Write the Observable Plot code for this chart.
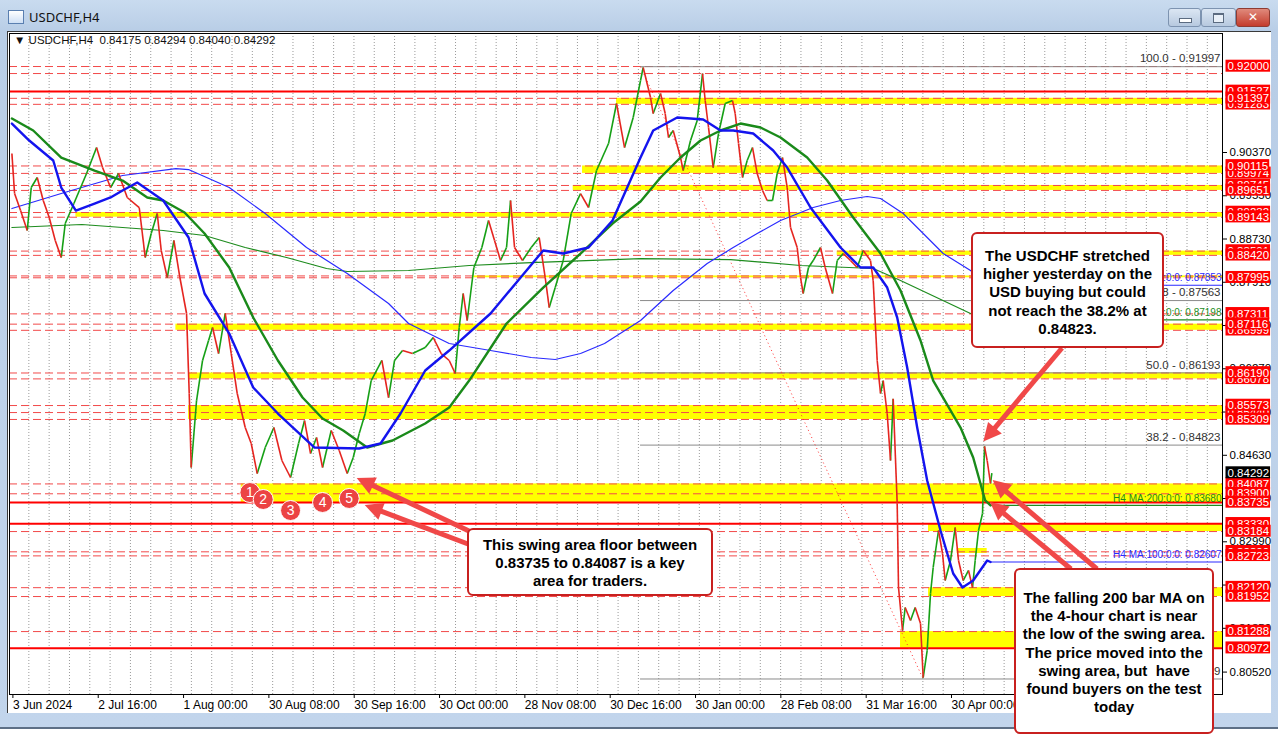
<!DOCTYPE html>
<html><head><meta charset="utf-8">
<script src="https://cdn.jsdelivr.net/npm/d3@7"></script>
<script src="https://cdn.jsdelivr.net/npm/@observablehq/plot@0.6"></script>
<style>
html,body{margin:0;padding:0}
body{width:1278px;height:737px;overflow:hidden;background:#fff;position:relative;font-family:"Liberation Sans",Arial,sans-serif}
#win{position:absolute;left:0;top:0;width:1278px;height:727px;background:linear-gradient(#c9dbef,#b8cde6 32px,#c2d5ec);border-bottom:2px solid #5d6f86}
#title{position:absolute;left:29px;top:8px;font:13px "Noto Sans","DejaVu Sans",sans-serif;color:#111}
#icon{position:absolute;left:8px;top:10px;width:14px;height:12px;border:1px solid #5a7fb0;background:linear-gradient(#fff,#cfe0f5)}
.btn{position:absolute;top:8px;height:17px;border:1px solid #7d93b0;border-radius:3px;background:linear-gradient(#dbe6f3,#b7c9df)}
#bmin{left:1168px;width:31px}#bmax{left:1201px;width:33px}
#bclose{left:1236px;width:32px;background:linear-gradient(#e08a7c,#c43c2c);border-color:#8e3b32;color:#fff;font:bold 12px "DejaVu Sans",sans-serif;text-align:center;line-height:17px}
#bmin:after{content:"";position:absolute;left:10px;top:9px;width:11px;height:3px;background:#fff;border:1px solid #5b6b80}
#bmax:after{content:"";position:absolute;left:11px;top:4px;width:9px;height:7px;border:1px solid #5b6b80;border-top-width:2px;background:#e9f0f8}
#chart{position:absolute;left:7px;top:31px;width:1263px;height:681px;background:#fff;border-top:1px solid #3a3a3a;border-left:1px solid #3a3a3a}
#chart svg{position:absolute;left:0;top:0}
#info{position:absolute;left:14px;top:34px;font-size:11.5px;color:#111;white-space:pre}
#overlay{position:absolute;left:0;top:0}
.box{position:absolute;background:#fff;border:2px solid #c8201f;border-radius:6px;box-sizing:border-box;text-align:center;font-weight:bold;font-size:15px;color:#000;line-height:18.2px}
</style></head>
<body>
<div id="win">
  <div id="icon"></div><div id="title">USDCHF,H4</div>
  <div class="btn" id="bmin"></div><div class="btn" id="bmax"></div><div class="btn" id="bclose">✕</div>
</div>
<div id="chart"></div>
<div id="info">▼ USDCHF,H4  0.84175 0.84294 0.84040 0.84292</div>
<svg id="overlay" width="1278" height="737"></svg>
<div class="box" style="left:971px;top:232px;width:193px;height:116px;padding-top:13px">The USDCHF stretched<br>higher yesterday on the<br>USD buying but could<br>not reach the 38.2% at<br>0.84823.</div>
<div class="box" style="left:467px;top:528px;width:246px;height:68px;padding-top:6px">This swing area floor between<br>0.83735 to 0.84087 is a key<br>area for traders.</div>
<div class="box" style="left:1014px;top:568px;width:200px;height:166px;padding-top:19px">The falling 200 bar MA on<br>the 4-hour chart is near<br>the low of the swing area.<br>The price moved into the<br>swing area, but&nbsp; have<br>found buyers on the test<br>today</div>
<script>
// ---------- DATA ----------
const xTickBars = [0,128,256,384,512,640,768,896,1024,1152,1280,1408];
const xTickLabels = ["3 Jun 2024","2 Jul 16:00","1 Aug 00:00","30 Aug 08:00","30 Sep 16:00","30 Oct 00:00","28 Nov 08:00","30 Dec 16:00","30 Jan 00:00","28 Feb 08:00","31 Mar 16:00","30 Apr 00:00"];
const axisPrices = [0.90370,0.89550,0.88730,0.87910,0.87090,0.86270,0.85450,0.84630,0.83810,0.82990,0.82170,0.81350,0.80520];
// horizontal-line labels, in drawing order
const levelLabels = [0.92000,0.91527,0.91283,0.91397,0.89974,0.90115,0.89745,0.89651,0.89232,0.89143,0.88501,0.88420,0.87995,0.86999,0.87311,0.87116,0.86078,0.86190,0.85440,0.85573,0.85309,0.84087,0.83900,0.83735,0.83330,0.83184,0.82800,0.82723,0.82120,0.81952,0.81288,0.80972];
const lastPrice = 0.84292;
const dashedLevels = [0.92000,0.91867,0.91397,0.91283,0.90115,0.89974,0.89745,0.89651,0.89232,0.89143,0.88501,0.88420,0.88030,0.87995,0.87311,0.87116,0.86999,0.86190,0.86078,0.85573,0.85440,0.85309,0.84087,0.83900,0.83184,0.82800,0.82723,0.82120,0.81952,0.81288];
const solidLevels = [0.91527,0.83735,0.83330,0.80972];
const bandTop    = [0.91397,0.90115,0.89745,0.89232,0.88501,0.88030,0.87116,0.86190,0.85573,0.84087,0.83330,0.82863,0.82120,0.81288];
const bandBottom = [0.91283,0.89974,0.89651,0.89143,0.88420,0.87995,0.86999,0.86078,0.85309,0.83735,0.83184,0.82768,0.81952,0.80972];
const bandStart  = [907,856,842,96,1238,693,246,265,265,344,1375,1418,1375,1333];
const bandEnd    = [null,null,null,null,null,null,null,null,null,null,null,1463,null,null];
const fibLevels = ["100.0","61.8","50.0","38.2","0.0"];
const fibPrices = [0.91997,0.87563,0.86193,0.84823,0.80389];
const fibHighBar = 943, fibLowBar = 1367;
const lastBar = 1468;
const maLabelNames = ["D1 MA:100:0:0:","D1 MA:200:0:0:","H4 MA:200:0:0:","H4 MA:100:0:0:"];
const maLabelValues = [0.87853,0.87198,0.83680,0.82607];
const swingBars = [357,377,418,466,506];
const swingPrices = [0.83924,0.83792,0.83583,0.83735,0.83811];
const swingNames = ["1","2","3","4","5"];
const pricePath = [[0,0.90351],[4,0.89592],[13,0.89270],[23,0.88891],[29,0.89706],[38,0.89896],[47,0.89460],[56,0.89138],[65,0.88702],[74,0.88379],[80,0.89024],[93,0.89403],[112,0.89972],[127,0.90464],[136,0.90085],[148,0.89706],[160,0.89972],[173,0.89517],[191,0.89327],[200,0.88379],[209,0.88834],[218,0.89213],[224,0.88512],[233,0.88000],[243,0.88702],[252,0.88000],[262,0.87318],[266,0.85801],[269,0.84398],[277,0.85668],[286,0.86427],[295,0.86806],[301,0.87052],[310,0.86559],[320,0.87318],[329,0.86559],[338,0.85801],[350,0.85156],[359,0.84853],[368,0.84284],[380,0.84777],[393,0.85156],[405,0.84531],[418,0.84209],[430,0.84853],[439,0.85289],[448,0.84664],[457,0.84967],[466,0.84398],[479,0.85100],[491,0.84720],[503,0.84284],[512,0.84588],[521,0.85043],[530,0.85422],[539,0.86047],[555,0.86427],[565,0.85725],[574,0.86427],[586,0.86616],[601,0.86559],[620,0.86673],[632,0.86863],[644,0.86559],[656,0.86427],[665,0.86180],[671,0.87052],[677,0.87697],[683,0.87185],[693,0.88190],[705,0.88569],[715,0.89081],[724,0.88702],[733,0.88322],[742,0.88569],[748,0.89460],[754,0.88569],[766,0.88322],[779,0.88569],[791,0.88758],[800,0.88000],[806,0.87431],[815,0.87810],[827,0.88322],[839,0.89213],[853,0.89592],[865,0.89327],[877,0.90028],[895,0.90540],[907,0.91299],[919,0.90464],[932,0.91033],[943,0.91735],[947,0.91981],[958,0.91412],[962,0.91109],[973,0.91488],[980,0.91109],[985,0.90654],[992,0.90787],[1003,0.90275],[1007,0.90028],[1018,0.90597],[1028,0.90976],[1036,0.91867],[1040,0.91355],[1045,0.90844],[1052,0.90085],[1060,0.90730],[1070,0.91299],[1081,0.91355],[1085,0.91109],[1090,0.90540],[1096,0.89896],[1103,0.90218],[1111,0.90464],[1118,0.89972],[1126,0.89649],[1133,0.89460],[1141,0.89460],[1148,0.89972],[1156,0.90275],[1163,0.89706],[1168,0.88948],[1178,0.88569],[1183,0.88000],[1187,0.87697],[1195,0.88190],[1202,0.88322],[1213,0.88569],[1220,0.88190],[1231,0.87697],[1238,0.88322],[1247,0.88455],[1258,0.88322],[1268,0.88190],[1277,0.88512],[1288,0.88322],[1292,0.87943],[1298,0.86427],[1303,0.85801],[1307,0.86047],[1313,0.85422],[1318,0.84531],[1322,0.85700],[1328,0.83716],[1330,0.82123],[1336,0.81308],[1340,0.81744],[1348,0.81498],[1355,0.81744],[1363,0.81441],[1367,0.80417],[1373,0.80929],[1378,0.82010],[1382,0.82503],[1390,0.83204],[1396,0.82768],[1400,0.82256],[1408,0.82635],[1415,0.83261],[1420,0.82635],[1427,0.82256],[1435,0.82446],[1441,0.82123],[1445,0.82635],[1450,0.83204],[1456,0.83526],[1459,0.84800],[1463,0.84531],[1468,0.84095],[1470,0.84292]];
const ma100H4 = [[0,0.90919],[26,0.90597],[62,0.90218],[74,0.89706],[96,0.89270],[124,0.89403],[148,0.89517],[166,0.89649],[188,0.89801],[227,0.89460],[265,0.88758],[289,0.87697],[326,0.86938],[362,0.85915],[399,0.85422],[454,0.84777],[521,0.84758],[553,0.84853],[583,0.85422],[620,0.86237],[656,0.86616],[718,0.87318],[797,0.88512],[827,0.88455],[865,0.88569],[901,0.89081],[943,0.90275],[962,0.90787],[998,0.91033],[1018,0.91014],[1037,0.90995],[1063,0.90787],[1082,0.90787],[1112,0.90730],[1142,0.90408],[1163,0.90085],[1198,0.89327],[1243,0.88569],[1273,0.88190],[1292,0.88190],[1313,0.87810],[1328,0.87242],[1343,0.86294],[1358,0.85156],[1373,0.84152],[1393,0.83204],[1412,0.82389],[1426,0.82123],[1442,0.82256],[1463,0.82635],[1468,0.82607]];
const ma200H4 = [[0,0.91014],[32,0.90787],[74,0.90275],[124,0.90028],[166,0.89839],[203,0.89517],[227,0.89460],[259,0.89232],[289,0.88834],[326,0.88190],[362,0.87242],[399,0.86427],[436,0.85725],[466,0.85327],[497,0.85100],[533,0.84777],[571,0.84910],[620,0.85232],[656,0.85536],[686,0.86047],[742,0.87128],[797,0.87810],[853,0.88455],[901,0.89024],[943,0.89440],[973,0.89896],[1003,0.90275],[1033,0.90597],[1063,0.90787],[1093,0.90919],[1123,0.90844],[1153,0.90654],[1193,0.90275],[1223,0.89839],[1262,0.89138],[1303,0.88455],[1333,0.87754],[1363,0.86806],[1382,0.86047],[1423,0.85156],[1442,0.84588],[1460,0.83773],[1468,0.83680]];
const ma100D1 = [[0,0.89308],[74,0.89592],[166,0.89934],[246,0.90066],[265,0.90047],[326,0.89706],[380,0.89213],[442,0.88569],[503,0.88076],[565,0.87507],[595,0.87128],[656,0.86749],[718,0.86616],[779,0.86484],[815,0.86446],[853,0.86559],[889,0.86749],[943,0.87185],[992,0.87754],[1043,0.88265],[1082,0.88569],[1118,0.88834],[1153,0.89081],[1202,0.89327],[1243,0.89460],[1283,0.89536],[1303,0.89498],[1337,0.89213],[1367,0.88834],[1397,0.88455],[1438,0.88133],[1468,0.87853]];
const ma200D1 = [[0,0.88948],[105,0.89005],[227,0.88891],[289,0.88796],[350,0.88569],[412,0.88379],[472,0.88171],[503,0.88114],[595,0.88133],[686,0.88228],[779,0.88284],[943,0.88360],[1078,0.88341],[1183,0.88228],[1292,0.88171],[1333,0.87943],[1438,0.87318],[1468,0.87198]];
const calloutTips = [[1458,0.84880],[518,0.84190],[530,0.83678],[1472,0.84152],[1468,0.83735]];

// ---------- CHART ----------
const X0 = -3.6, X1 = 1816, Y0 = 0.80095, Y1 = 0.92626;
const W = 1262, H = 680;
const segs = d3.pairs(pricePath).map(([a,b]) => ({x1:a[0], y1:a[1], x2:b[0], y2:b[1], up:b[1] >= a[1]}));
const bands = bandTop.map((t,i) => ({hi:t, lo:bandBottom[i], from:bandStart[i], to:bandEnd[i] ?? X1}));
const fib = fibPrices.map((p,i) => ({p, t:`${fibLevels[i]} - ${p.toFixed(5)}`}));
const maLab = maLabelValues.map((v,i) => ({v, t:`${maLabelNames[i]} ${v.toFixed(5)}`, i}));
const maCol = ["#2a2aff","#1e8c1e","#1e8c1e","#2a2aff"];
const swings = swingBars.map((b,i) => ({b, p:swingPrices[i], n:swingNames[i]}));
const gridBars = d3.range(25.4, X1, 30.48);

const plot = Plot.plot({
  width: W, height: H,
  marginLeft: 1, marginRight: 48, marginTop: 1, marginBottom: 18,
  x: {domain: [X0, X1]},
  y: {domain: [Y0, Y1]},
  style: {background: "white", fontFamily: "'Liberation Sans', Arial, sans-serif", fontSize: "12px", overflow: "visible", color: "#000"},
  marks: [
    Plot.ruleX(gridBars, {x: d => d, stroke: "#9a9a9a", strokeDasharray: "1,2", strokeWidth: 1}),
    Plot.rect(bands, {x1: "from", x2: "to", y1: "lo", y2: "hi", fill: "#ffff00"}),
    Plot.ruleY(dashedLevels, {y: d => d, stroke: "#f24a4a", strokeDasharray: "8,4", strokeWidth: 1}),
    Plot.ruleY(solidLevels, {y: d => d, stroke: "#ff0000", strokeWidth: 2}),
    Plot.ruleY(fib, {y: "p", x1: fibHighBar, x2: X1, stroke: "#8a8a8a", strokeWidth: 1}),
    Plot.link([0], {x1: fibHighBar, y1: fibPrices[0], x2: fibLowBar, y2: fibPrices[4], stroke: "#ff3030", strokeDasharray: "1,3", strokeWidth: 1}),
    Plot.text(fib, {y: "p", text: "t", frameAnchor: "right", textAnchor: "end", dx: -2, dy: -8, fill: "#333", fontSize: 11.5}),
    Plot.ruleY(maLab, {y: "v", x1: lastBar, x2: X1, stroke: d => maCol[d.i], strokeWidth: 1.2}),
    Plot.text(maLab, {y: "v", text: "t", frameAnchor: "right", textAnchor: "end", dx: -1, dy: -7, fill: d => maCol[d.i], fontSize: 10}),
    Plot.line(ma200D1, {x: d => d[0], y: d => d[1], stroke: "#1e8c1e", strokeWidth: 1.2}),
    Plot.line(ma100D1, {x: d => d[0], y: d => d[1], stroke: "#2a2aff", strokeWidth: 1.2}),
    Plot.link(segs.filter(d => d.up), {x1: "x1", y1: "y1", x2: "x2", y2: "y2", stroke: "#16a016", strokeWidth: 1.6}),
    Plot.link(segs.filter(d => !d.up), {x1: "x1", y1: "y1", x2: "x2", y2: "y2", stroke: "#e52520", strokeWidth: 1.6}),
    Plot.line(ma200H4, {x: d => d[0], y: d => d[1], stroke: "#1a8a1a", strokeWidth: 2.4}),
    Plot.line(ma100H4, {x: d => d[0], y: d => d[1], stroke: "#1414ee", strokeWidth: 2.4}),
    Plot.dot(swings, {x: "b", y: "p", r: 10, fill: "#ec4343", stroke: "white", strokeWidth: 1}),
    Plot.text(swings, {x: "b", y: "p", text: "n", fill: "white", fontSize: 14}),
    Plot.frame({stroke: "#000"}),
    Plot.axisX({ticks: xTickBars, tickFormat: d => xTickLabels[xTickBars.indexOf(d)], textAnchor: "start", dx: 1, tickSize: 4, tickPadding: 2, fontSize: 12, label: null}),
    Plot.axisY({anchor: "right", ticks: axisPrices, tickFormat: d => d.toFixed(5), tickSize: 4, tickPadding: 3, fontSize: 11.5, label: null}),
    Plot.text(levelLabels, {y: d => d, text: d => d.toFixed(5), frameAnchor: "right", textAnchor: "start", dx: 5, fill: "white", fontSize: 11.5, ariaDescription: "redlab"}),
    Plot.text([lastPrice], {y: d => d, text: d => d.toFixed(5), frameAnchor: "right", textAnchor: "start", dx: 5, fill: "white", fontSize: 11.5, ariaDescription: "blacklab"})
  ]
});
document.getElementById("chart").appendChild(plot);

// label background boxes
const NS = "http://www.w3.org/2000/svg";
[["redlab","#ff0000"],["blacklab","#000000"]].forEach(([lab, col]) => {
  plot.querySelectorAll(`g[aria-description="${lab}"] text`).forEach(t => {
    const b = t.getBBox();
    const cy = b.y + b.height / 2;
    const r = document.createElementNS(NS, "rect");
    r.setAttribute("x", b.x - 2); r.setAttribute("y", cy - 6.5);
    r.setAttribute("width", b.width + 3); r.setAttribute("height", 12);
    r.setAttribute("fill", col); r.setAttribute("stroke", "none");
    if (t.getAttribute("transform")) r.setAttribute("transform", t.getAttribute("transform"));
    t.parentNode.insertBefore(r, t);
  });
});

// callout arrows (tips at data points)
const sx = plot.scale("x"), sy = plot.scale("y");
const px = v => 8 + sx.apply(v), py = v => 32 + sy.apply(v);
const tails = [[1062,348],[469,531],[468,544],[1097,569],[1071,569]];
const ov = d3.select("#overlay");
calloutTips.forEach(([b,p], i) => {
  const [x1,y1] = tails[i];
  const x2 = px(b), y2 = py(p);
  const dx = x2 - x1, dy = y2 - y1, L = Math.hypot(dx, dy), ux = dx / L, uy = dy / L;
  const hl = 18, hw = 9;
  const bx = x2 - ux * hl, by = y2 - uy * hl;
  ov.append("line").attr("x1", x1).attr("y1", y1).attr("x2", bx + ux * 2).attr("y2", by + uy * 2)
    .attr("stroke", "#f04848").attr("stroke-width", 5);
  ov.append("polygon").attr("points", `${x2},${y2} ${bx - uy * hw},${by + ux * hw} ${bx + uy * hw},${by - ux * hw}`)
    .attr("fill", "#f04848");
});
</script>
</body></html>
